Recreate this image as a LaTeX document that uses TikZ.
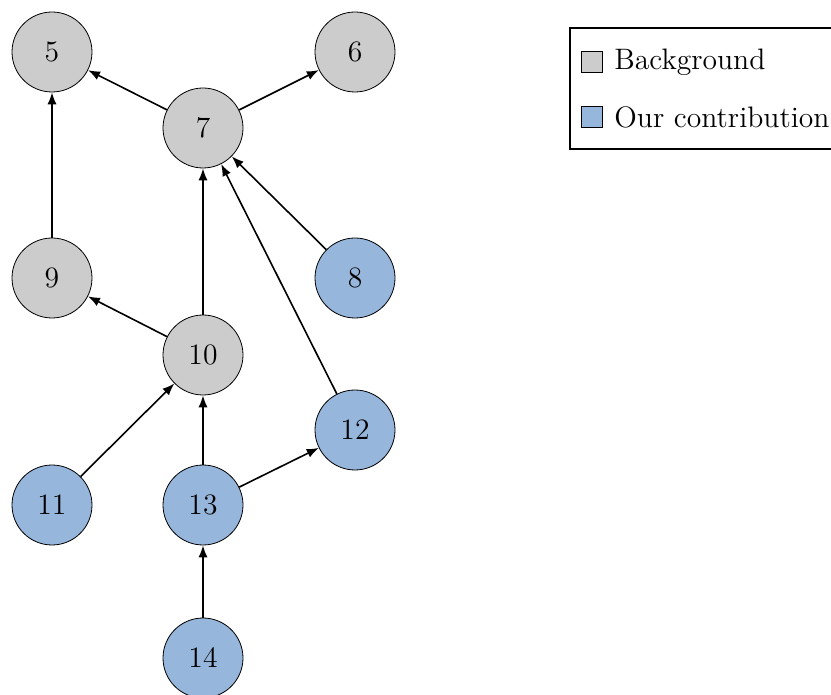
\documentclass[tikz,border=0pt]{standalone}
\usetikzlibrary{arrows.meta}
\definecolor{bggray}{RGB}{204,204,204}
\definecolor{ourblue}{RGB}{151,182,220}
\begin{document}
\begin{tikzpicture}[x=0.5pt,y=-0.5pt,
  lbl/.style={font=\fontsize{14.8}{18}\selectfont},
  vtx/.style={circle,draw=black,line width=0.4pt,minimum size=40pt,inner sep=0pt,lbl},
  bgv/.style={vtx,fill=bggray},
  ourv/.style={vtx,fill=ourblue},
  edge/.style={-{Latex[length=6pt,width=4.6pt]},line width=0.8pt},
  sw/.style={draw=black,line width=0.8pt,minimum size=10.5pt,inner sep=0pt}]
\useasboundingbox (0,0) rectangle (831,695);
\node[bgv] (n5) at (52,52) {5};
\node[bgv] (n6) at (355,52) {6};
\node[bgv] (n7) at (203,128) {7};
\node[bgv] (n9) at (52,278) {9};
\node[ourv] (n8) at (355,278) {8};
\node[bgv] (n10) at (203,355) {10};
\node[ourv] (n12) at (355,430) {12};
\node[ourv] (n11) at (52,505) {11};
\node[ourv] (n13) at (203,505) {13};
\node[ourv] (n14) at (203,658) {14};
\draw[edge] (n7) -- (n5);
\draw[edge] (n7) -- (n6);
\draw[edge] (n9) -- (n5);
\draw[edge] (n10) -- (n7);
\draw[edge] (n8) -- (n7);
\draw[edge] (n12) -- (n7);
\draw[edge] (n10) -- (n9);
\draw[edge] (n11) -- (n10);
\draw[edge] (n13) -- (n10);
\draw[edge] (n13) -- (n12);
\draw[edge] (n14) -- (n13);
% legend
\draw[line width=0.8pt] (850,28) -- (570,28) -- (570,149) -- (850,149);
\node[sw,fill=bggray] (lg1) at (592,62) {};
\node[sw,fill=ourblue] (lg2) at (592,117) {};
\node[anchor=west,lbl,inner sep=0pt] (t1) at (614,62) {Background};
\node[anchor=west,lbl,inner sep=0pt] (t2) at (614,117) {Our contribution};
\end{tikzpicture}
\end{document}
